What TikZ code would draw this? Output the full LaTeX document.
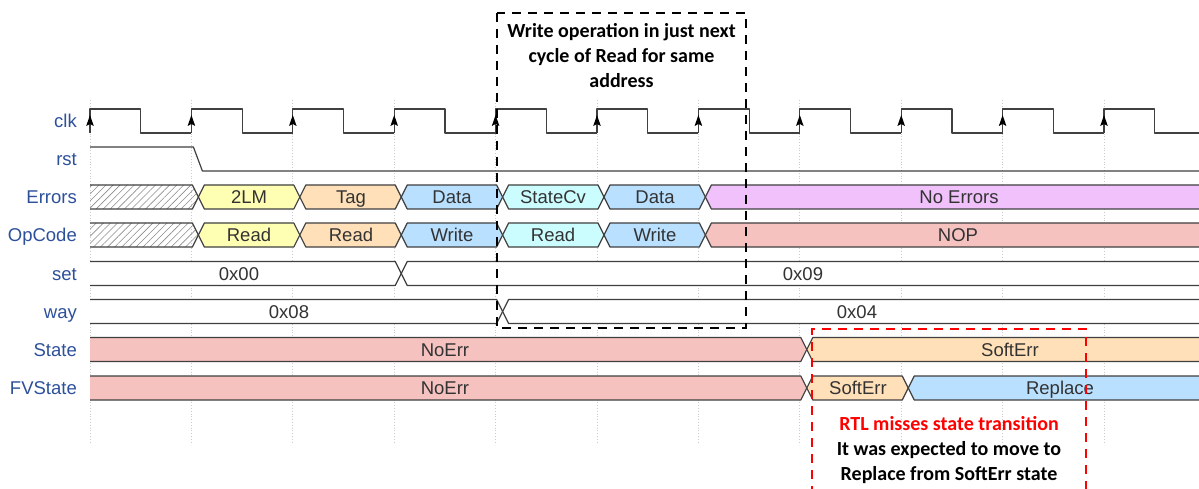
\documentclass[tikz,border=0pt]{standalone}
\usepackage{fontspec}
\setmainfont{Liberation Sans}
\newfontfamily\notefont{Carlito}
\usepackage{tikz}
\usetikzlibrary{arrows.meta}
\usetikzlibrary{patterns.meta}
\definecolor{wyellow}{HTML}{FFFFB4}
\definecolor{worange}{HTML}{FFE0B9}
\definecolor{wblue}{HTML}{B9E0FF}
\definecolor{wcyan}{HTML}{CCFDFE}
\definecolor{wpurple}{HTML}{F0C1FB}
\definecolor{wred}{HTML}{F5C2C0}
\definecolor{lblue}{RGB}{45,80,155}
\newcommand{\seg}[7]{%
	\filldraw[wline,fill=#5] (#2+7,#4) -- (#2+13,#4-12) -- (#3+1,#4-12) -- (#3+7,#4) -- (#3+1,#4+12) -- (#2+13,#4+12) -- cycle;
	\node (#1) [sig] at (#6,#4) {#7};}
\newcommand{\firstseg}[6]{%
	\path[#4] (90,#3-12) -- (#2+1,#3-12) -- (#2+7,#3) -- (#2+1,#3+12) -- (90,#3+12) -- cycle;
	\draw[wline] (90,#3-12) -- (#2+1,#3-12) -- (#2+7,#3) -- (#2+1,#3+12) -- (90,#3+12);
	\node (#1) [sig] at (#5,#3) {#6};}

\begin{document}
\begin{tikzpicture}[x=1pt,y=-1pt,
	wline/.style={draw=black!75,line width=1.2pt,line join=round},
	sig/.style={font=\fontsize{18.5}{20}\selectfont,text=black!80,text height=13pt,text depth=0pt,inner sep=0pt},
	lab/.style={anchor=east,font=\fontsize{18.5}{20}\selectfont,text=lblue,text height=13pt,text depth=0pt,inner sep=0pt},
	grid/.style={black!20,dotted,line width=0.8pt},
	note/.style={dashed,dash pattern=on 9pt off 7pt,line width=1.6pt},
	notetext/.style={align=center,font=\notefont\bfseries\fontsize{20}{25}\selectfont}]
	\useasboundingbox[fill=white] (0,0) rectangle (1199,489);
	\foreach \e in {90,191.4,292.8,394.2,495.6,597,698.4,799.8,901.2,1002.6,1104}
		\draw[grid] (\e,100) -- (\e,443);
	\foreach \e in {90,191.4,292.8,394.2,495.6,597,698.4,799.8,901.2,1002.6,1104} {
		\draw[wline] (\e,133) -- (\e,109) -- (\e+50.7,109) -- (\e+50.7,133) -- (\e+101.4,133);
		\fill[black] (\e,115) -- (\e-3.8,126) -- (\e,124) -- (\e+3.8,126) -- cycle;
	}
	\draw[wline] (90,147) -- (193.4,147) -- (202.4,171) -- (1210,171);
	\node (lclk) [lab] at (77,121) {clk};
	\node (lrst) [lab] at (77,159) {rst};
	\node (lerr) [lab] at (77,197) {Errors};
	\node (lop) [lab] at (77,235) {OpCode};
	\node (lset) [lab] at (77,273.5) {set};
	\node (lway) [lab] at (77,311.5) {way};
	\node (lst) [lab] at (77,349.5) {State};
	\node (lfv) [lab] at (77,388) {FVState};
	\firstseg{e0}{191.4}{197}{pattern={Lines[angle=45,distance=5pt,line width=0.6pt]},pattern color=black!45}{140}{}
	\seg{e1}{191.4}{292.8}{197}{wyellow}{249}{2LM}
	\seg{e2}{292.8}{394.2}{197}{worange}{351}{Tag}
	\seg{e3}{394.2}{495.6}{197}{wblue}{452}{Data}
	\seg{e4}{495.6}{597}{197}{wcyan}{553}{StateCv}
	\seg{e5}{597}{698.4}{197}{wblue}{655}{Data}
	\seg{e6}{698.4}{1215}{197}{wpurple}{959}{No Errors}
	\firstseg{o0}{191.4}{235}{pattern={Lines[angle=45,distance=5pt,line width=0.6pt]},pattern color=black!45}{140}{}
	\seg{o1}{191.4}{292.8}{235}{wyellow}{249}{Read}
	\seg{o2}{292.8}{394.2}{235}{worange}{351}{Read}
	\seg{o3}{394.2}{495.6}{235}{wblue}{452}{Write}
	\seg{o4}{495.6}{597}{235}{wcyan}{553}{Read}
	\seg{o5}{597}{698.4}{235}{wblue}{655}{Write}
	\seg{o6}{698.4}{1215}{235}{wred}{958}{NOP}
	\firstseg{s0}{394.2}{273.5}{fill=white}{239}{0x00}
	\seg{s1}{394.2}{1215}{273.5}{white}{803}{0x09}
	\firstseg{w0}{495.6}{311.5}{fill=white}{289}{0x08}
	\seg{w1}{495.6}{1215}{311.5}{white}{857}{0x04}
	\firstseg{st0}{799.8}{349.5}{fill=wred}{445}{NoErr}
	\seg{st1}{799.8}{1215}{349.5}{worange}{1010}{SoftErr}
	\firstseg{fv0}{799.8}{388}{fill=wred}{445}{NoErr}
	\seg{fv1}{799.8}{901.2}{388}{worange}{858}{SoftErr}
	\seg{fv2}{901.2}{1215}{388}{wblue}{1060}{Replace}
	\draw[note] (497,13) rectangle (746,328);
	\node (wnote) [notetext] at (621.5,56) {Write operation in just next\\cycle of Read for same\\address};
	\draw[note,red] (812,495) -- (812,329) -- (1086,329) -- (1086,495);
	\node (rnote) [notetext] at (949,450) {\textcolor{red}{RTL misses state transition}\\It was expected to move to\\Replace from SoftErr state};
\end{tikzpicture}
\end{document}
